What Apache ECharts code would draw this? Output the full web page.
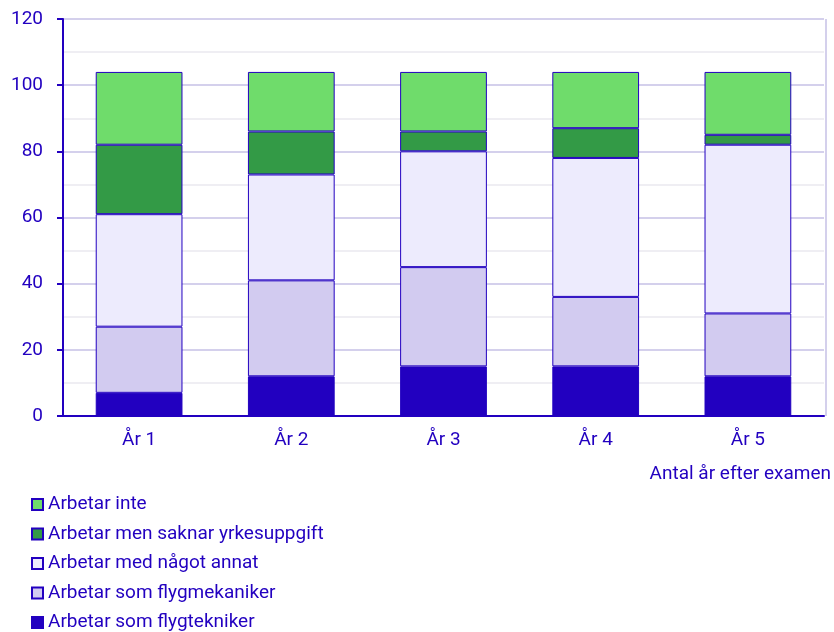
<!DOCTYPE html>
<html>
<head>
<meta charset="utf-8">
<script src="https://cdn.jsdelivr.net/npm/echarts@6/dist/echarts.min.js"></script>
<style>
  html, body { margin: 0; padding: 0; background: #fff; }
  #chart { width: 834px; height: 632px; }
</style>
</head>
<body>
<div id="chart"></div>
<script>
// categories and values
var years = ['År 1', 'År 2', 'År 3', 'År 4', 'År 5'];
var flygtekniker = [7, 12, 15, 15, 12];
var flygmekaniker = [20, 29, 30, 21, 19];
var annat = [34, 32, 35, 42, 51];
var saknarYrke = [21, 13, 6, 9, 3];
var arbetarInte = [22, 18, 18, 17, 19];

var textBlue = '#2200c0';
var font = 'Roboto';
var fs = 19;

var chart = echarts.init(document.getElementById('chart'));

function bar(name, data, color) {
  return {
    name: name,
    type: 'bar',
    stack: 'total',
    data: data,
    barWidth: '57%',
    itemStyle: { color: color, borderColor: textBlue, borderWidth: 1 },
    emphasis: { disabled: true }
  };
}

var option = {
  animation: false,
  textStyle: { fontFamily: font, color: textBlue },
  grid: { left: 63, right: 8, top: 19, bottom: 216, containLabel: false },
  legend: {
    orient: 'vertical',
    left: 31,
    top: 495,
    padding: 0,
    height: 200,
    icon: 'rect',
    itemWidth: 11,
    itemHeight: 11,
    itemGap: 10.5,
    textStyle: { fontFamily: font, fontSize: fs, color: textBlue },
    data: ['Arbetar inte', 'Arbetar men saknar yrkesuppgift', 'Arbetar med något annat',
           'Arbetar som flygmekaniker', 'Arbetar som flygtekniker']
  },
  xAxis: {
    type: 'category',
    data: years,
    name: 'Antal år efter examen',
    nameLocation: 'end',
    nameGap: 7,
    nameTextStyle: {
      fontFamily: font, fontSize: fs, color: textBlue,
      align: 'right', verticalAlign: 'top', padding: [49, 0, 0, 0]
    },
    axisLine: { lineStyle: { color: textBlue, width: 2 } },
    axisTick: { show: false },
    axisLabel: { fontFamily: font, fontSize: fs, color: textBlue, margin: 15 },
    splitLine: { show: false }
  },
  yAxis: {
    type: 'value',
    min: 0,
    max: 120,
    interval: 20,
    axisLine: { show: true, lineStyle: { color: textBlue, width: 2 } },
    axisTick: { show: true, length: 6, lineStyle: { color: textBlue, width: 2 } },
    axisLabel: { fontFamily: font, fontSize: fs, color: textBlue, margin: 20 },
    splitLine: { show: true, lineStyle: { color: '#d4d0ec', width: 2 } },
    minorTick: { show: false, splitNumber: 2 },
    minorSplitLine: { show: true, lineStyle: { color: '#efeef3', width: 2 } }
  },
  series: [
    bar('Arbetar som flygtekniker', flygtekniker, '#2200c0'),
    bar('Arbetar som flygmekaniker', flygmekaniker, '#d2cbf0'),
    bar('Arbetar med något annat', annat, '#edebfd'),
    bar('Arbetar men saknar yrkesuppgift', saknarYrke, '#339a46'),
    bar('Arbetar inte', arbetarInte, '#6fdc6b')
  ],
  graphic: [{
    // right border of the plot area
    type: 'line',
    shape: { x1: 826, y1: 19, x2: 826, y2: 416 },
    style: { stroke: '#d4d0ec', lineWidth: 2 },
    z: 0
  }]
};

chart.setOption(option);
</script>
</body>
</html>
